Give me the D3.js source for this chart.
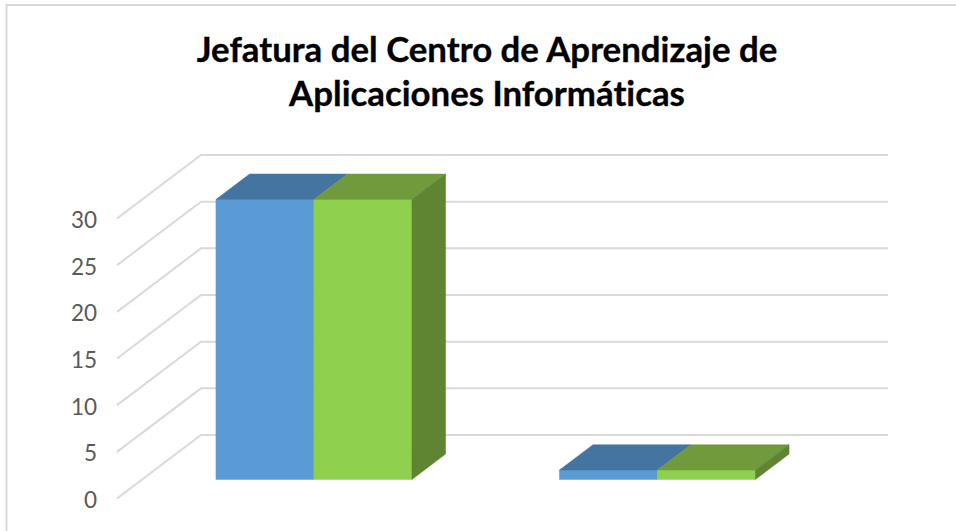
<!DOCTYPE html>
<html><head><meta charset="utf-8">
<script src="https://cdnjs.cloudflare.com/ajax/libs/d3/7.8.5/d3.min.js"></script>
<style>html,body{margin:0;padding:0;background:#fff}svg{display:block}</style>
</head><body><svg id="c" width="956" height="531"></svg>
<script>
const titleLines = ["Jefatura del Centro de Aprendizaje de", "Aplicaciones Informáticas"];
const categories = ["Categoría 1", "Categoría 2"];
const seriesNames = ["Serie 1", "Serie 2"];
const seriesA = [30, 1];
const seriesB = [30, 1];
const tickLabels = [0, 5, 10, 15, 20, 25, 30];
const frontColors = ["#5b9bd5", "#8fd14f"];
const topColors = ["#4475a1", "#6f9b3c"];
const sideColor = "#5f8432";

const svg = d3.select("#c");
const y = d3.scaleLinear().domain([0, 30]).range([498.5, 218.5]);
const x = d3.scaleBand().domain(categories).range([117, 804]);
const inner = d3.scaleBand().domain(seriesNames).range([0, 196]);
const dX = d => d * 84;
const dY = d => -d * 63.5;
const barD0 = 0.3, barD1 = 0.7;
const pt = (px, py, d) => [px + dX(d), py + dY(d)];
const line = d3.line();

// frame
svg.append("path").attr("d", "M956,5H6.5V531").attr("fill", "none").attr("stroke", "#d9d9d9").attr("stroke-width", 2);

// gridlines
const grid = svg.append("g").attr("fill", "none").attr("stroke", "#d9d9d9").attr("stroke-width", 2);
grid.selectAll("path").data(tickLabels).join("path")
  .attr("d", v => line([pt(117, y(v), 0), pt(117, y(v), 1), pt(804, y(v), 1)]));

// axis labels
const axis = svg.append("g").attr("transform", "translate(97,1.5)")
  .call(d3.axisLeft(y).tickValues(tickLabels).tickSize(0).tickPadding(0));
axis.select(".domain").remove();
axis.selectAll("text").attr("font-family", "Lato").attr("font-size", 22.5).attr("fill", "#595959").attr("dy", "0.34em");

// bars
const rows = categories.flatMap((c, i) => [
  {c, s: seriesNames[0], v: seriesA[i], k: 0},
  {c, s: seriesNames[1], v: seriesB[i], k: 1}
]);
const bars = svg.append("g");
rows.forEach(r => {
  const groupLeft = x(r.c) + (x.bandwidth() - 196) / 2;
  const x0 = groupLeft + inner(r.s), x1 = x0 + inner.bandwidth();
  const yb = y(0), yt = y(r.v);
  const g = bars.append("g");
  g.append("path").attr("fill", frontColors[r.k]).attr("stroke", frontColors[r.k]).attr("stroke-width", .5)
    .attr("d", line([pt(x0, yb, barD0), pt(x1, yb, barD0), pt(x1, yt, barD0), pt(x0, yt, barD0)]) + "Z");
  g.append("path").attr("fill", topColors[r.k]).attr("stroke", topColors[r.k]).attr("stroke-width", .5)
    .attr("d", line([pt(x0, yt, barD0), pt(x1, yt, barD0), pt(x1, yt, barD1), pt(x0, yt, barD1)]) + "Z");
  if (r.k === 1) {
    g.append("path").attr("fill", sideColor).attr("stroke", sideColor).attr("stroke-width", .5)
      .attr("d", line([pt(x1, yb, barD0), pt(x1, yb, barD1), pt(x1, yt, barD1), pt(x1, yt, barD0)]) + "Z");
  }
});

// title
svg.append("g").selectAll("text").data(titleLines).join("text")
  .attr("x", 487).attr("y", (d, i) => 62 + i * 44)
  .attr("text-anchor", "middle").attr("font-family", "Lato").attr("font-weight", 700)
  .attr("font-size", 34.8).attr("fill", "#000").attr("stroke", "#000").attr("stroke-width", 0.35)
  .style("font-variant-ligatures", "none").text(d => d);
</script></body></html>
